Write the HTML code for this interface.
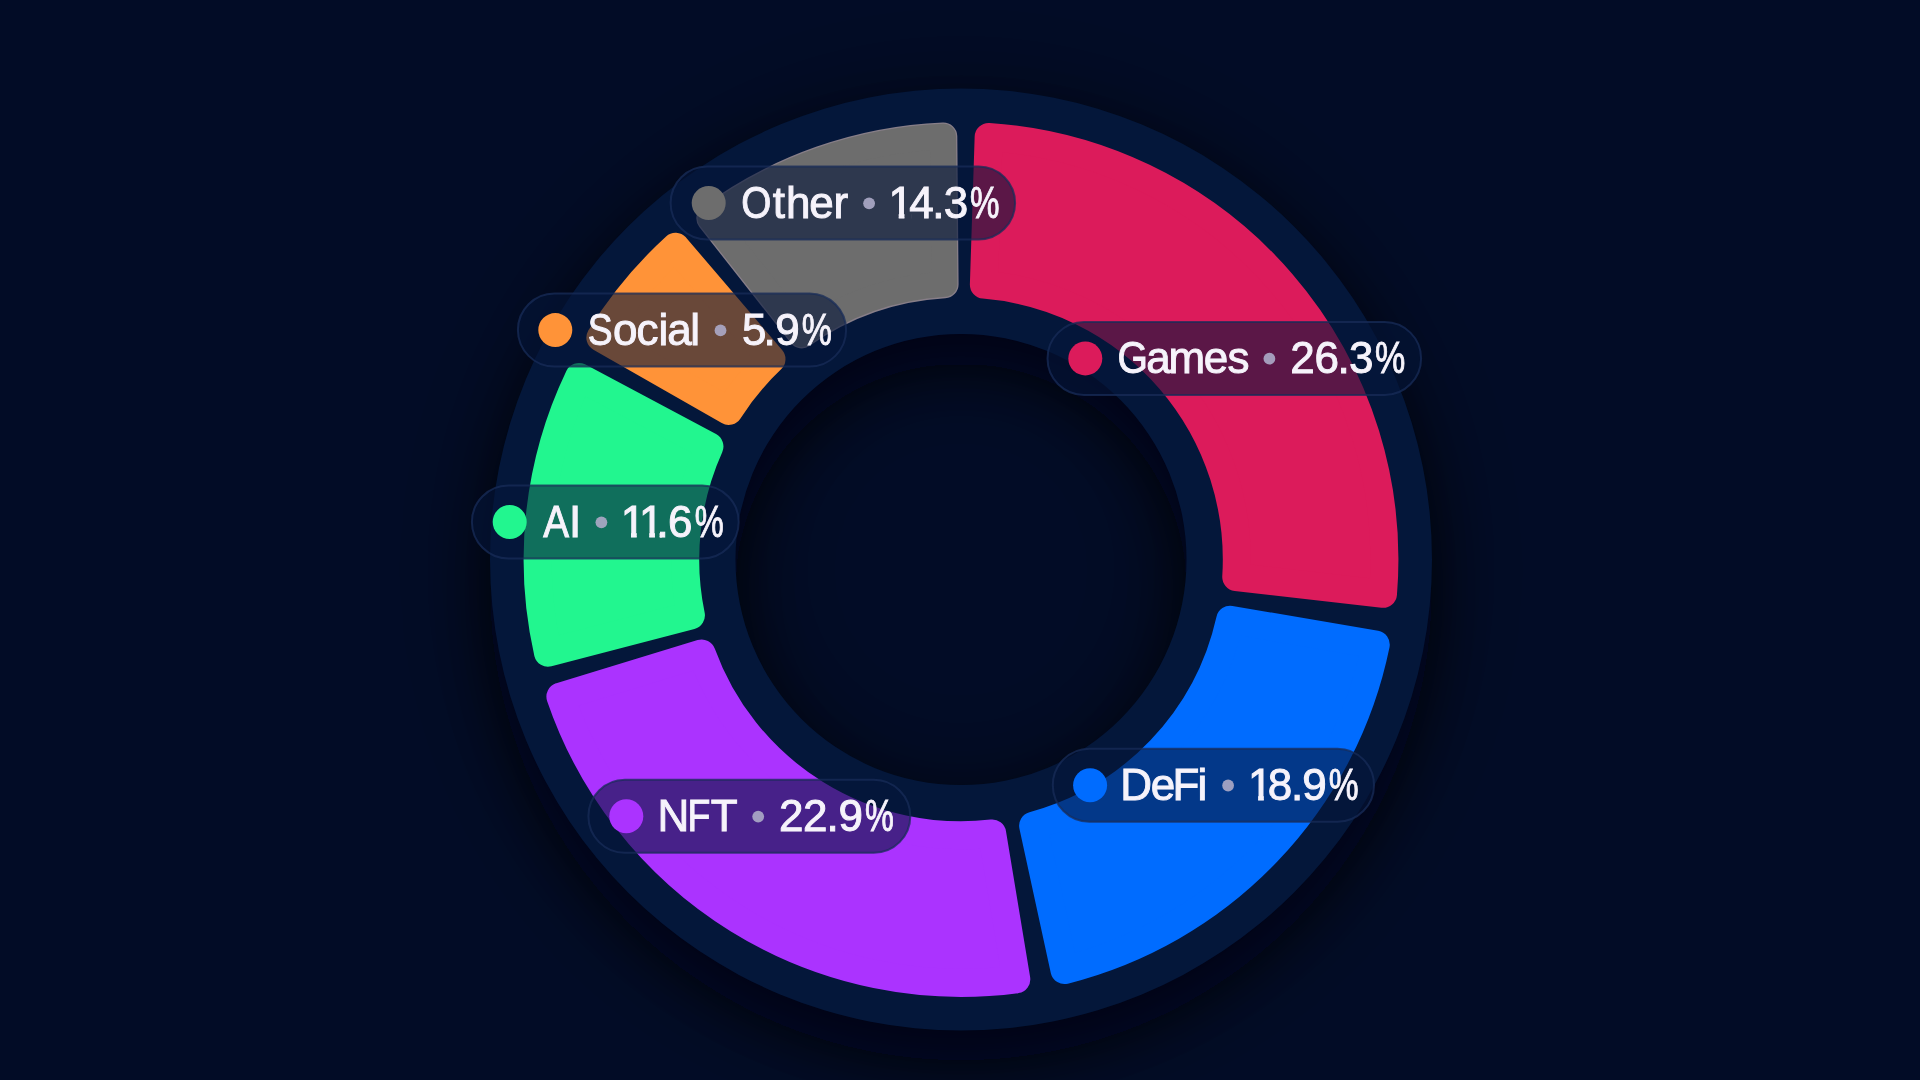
<!DOCTYPE html>
<html lang="en"><head><meta charset="utf-8"><title>Category share</title>
<style>
html,body{margin:0;padding:0;background:#020c26;}
body{width:1920px;height:1080px;overflow:hidden;}
svg{display:block;will-change:transform;}
text{font-family:"Liberation Sans",Arial,sans-serif;font-size:44px;fill:#f6f3fb;stroke:#f6f3fb;stroke-width:0.95px;}
</style></head><body>
<svg width="1920" height="1080" viewBox="0 0 1920 1080">
<defs>
<filter id="shA" filterUnits="userSpaceOnUse" x="0" y="0" width="1920" height="1080"><feGaussianBlur stdDeviation="30"/></filter>
<filter id="shB" filterUnits="userSpaceOnUse" x="0" y="0" width="1920" height="1080"><feGaussianBlur stdDeviation="55"/></filter>
<clipPath id="c0"><rect x="879.1" y="167.9" width="131.6" height="45.70"/><rect x="879.10" y="213.50" width="10.79" height="14"/><rect x="898.71" y="213.50" width="5.72" height="14"/><rect x="911.89" y="213.50" width="98.81" height="14"/></clipPath>
<clipPath id="c1"><rect x="611.5" y="486.9" width="123.5" height="45.70"/><rect x="611.50" y="532.50" width="10.69" height="14"/><rect x="631.01" y="532.50" width="5.72" height="14"/><rect x="649.21" y="532.50" width="5.72" height="14"/><rect x="659.59" y="532.50" width="75.41" height="14"/></clipPath>
<clipPath id="c2"><rect x="1238.5" y="750.1" width="131.3" height="45.70"/><rect x="1238.50" y="795.70" width="10.79" height="14"/><rect x="1258.11" y="795.70" width="5.72" height="14"/><rect x="1271.29" y="795.70" width="98.51" height="14"/></clipPath>
</defs>
<rect width="1920" height="1080" fill="#020c26"/>
<path d="M490.0 559.5a471.0 471.0 0 1 0 942.0 0a471.0 471.0 0 1 0 -942.0 0ZM735.5 559.5a225.5 225.5 0 1 0 451.0 0a225.5 225.5 0 1 0 -451.0 0Z" fill="#00030d" fill-rule="evenodd" fill-opacity="0.38" filter="url(#shB)" transform="translate(0 10)"/>
<path d="M490.0 559.5a471.0 471.0 0 1 0 942.0 0a471.0 471.0 0 1 0 -942.0 0ZM735.5 559.5a225.5 225.5 0 1 0 451.0 0a225.5 225.5 0 1 0 -451.0 0Z" fill="#00030d" fill-rule="evenodd" fill-opacity="0.72" filter="url(#shA)" transform="translate(0 30)"/>
<path fill="#04173a" fill-rule="evenodd" d="M490.0 559.5a471.0 471.0 0 1 0 942.0 0a471.0 471.0 0 1 0 -942.0 0ZM735.5 559.5a225.5 225.5 0 1 0 451.0 0a225.5 225.5 0 1 0 -451.0 0Z"/>
<g stroke-linejoin="round" stroke-width="28">
<path fill="#dc1b5b" stroke="#dc1b5b" d="M988.65 137.00 A423.40 423.40 0 0 1 1383.00 593.86 L1236.24 577.01 A275.80 275.80 0 0 0 983.88 284.65 Z"/>
<path fill="#006cff" stroke="#006cff" d="M1375.76 644.60 A423.40 423.40 0 0 1 1064.47 970.06 L1033.12 825.70 A275.80 275.80 0 0 0 1230.15 619.71 Z"/>
<path fill="#ab33ff" stroke="#ab33ff" d="M1016.30 979.27 A423.40 423.40 0 0 1 560.42 696.61 L701.68 653.42 A275.80 275.80 0 0 0 992.18 833.53 Z"/>
<path fill="#22f68f" stroke="#22f68f" d="M547.97 652.62 A423.40 423.40 0 0 1 578.97 376.96 L709.45 446.42 A275.80 275.80 0 0 0 690.92 615.38 Z"/>
<path fill="#ff9338" stroke="#ff9338" d="M600.36 337.68 A423.40 423.40 0 0 1 675.53 246.81 L771.47 359.14 A275.80 275.80 0 0 0 728.68 410.87 Z"/>
<path fill="#877e88" stroke="#877e88" d="M710.31 218.29 A423.40 423.40 0 0 1 943.31 136.47 L944.60 284.19 A275.80 275.80 0 0 0 801.66 334.38 Z"/>
<path fill="#6d6d6d" stroke="#6d6d6d" stroke-width="25.4" d="M710.31 218.29 A423.40 423.40 0 0 1 943.31 136.47 L944.60 284.19 A275.80 275.80 0 0 0 801.66 334.38 Z"/>
</g>
<g><title>Other • 14.3%</title>
<rect x="670.6" y="166.5" width="344.5" height="73.0" rx="36.5" fill="#05153a" fill-opacity="0.6" stroke="#182c58" stroke-opacity="0.75" stroke-width="2"/>
<circle cx="708.7" cy="203.0" r="17" fill="#6d6d6d"/>
<text y="217.9" x="741.15 772.71 785.93 809.26 833.60"><tspan textLength="30.12" lengthAdjust="spacingAndGlyphs">O</tspan>ther</text>
<circle cx="869.1" cy="203.3" r="5.9" fill="#aaa8c6" fill-opacity="0.92"/>
<text y="217.9" x="888.57 909.30 932.18 943.85 969.88" clip-path="url(#c0)">14.3<tspan textLength="29.51" lengthAdjust="spacingAndGlyphs">%</tspan></text>
</g>
<g><title>Social • 5.9%</title>
<rect x="517.9" y="293.6" width="328.2" height="73.0" rx="36.5" fill="#05153a" fill-opacity="0.6" stroke="#182c58" stroke-opacity="0.75" stroke-width="2"/>
<circle cx="555.3" cy="330.1" r="17" fill="#ff9338"/>
<text y="345.0" x="587.66 613.09 636.60 658.47 667.33 690.22"><tspan textLength="24.82" lengthAdjust="spacingAndGlyphs">S</tspan>ocial</text>
<circle cx="720.5" cy="330.4" r="5.9" fill="#aaa8c6" fill-opacity="0.92"/>
<text y="345.0" x="742.01 763.53 775.22 801.85">5.9<tspan textLength="30.16" lengthAdjust="spacingAndGlyphs">%</tspan></text>
</g>
<g><title>Games • 26.3%</title>
<rect x="1047.5" y="321.9" width="373.6" height="73.0" rx="36.5" fill="#05153a" fill-opacity="0.6" stroke="#182c58" stroke-opacity="0.75" stroke-width="2"/>
<circle cx="1085.3" cy="358.4" r="17" fill="#dc1b5b"/>
<text y="373.3" x="1117.42 1146.23 1168.52 1203.81 1227.58"><tspan textLength="30.43" lengthAdjust="spacingAndGlyphs">G</tspan>ames</text>
<circle cx="1269.4" cy="358.7" r="5.9" fill="#aaa8c6" fill-opacity="0.92"/>
<text y="373.3" x="1290.37 1314.56 1337.46 1348.90 1374.95">26.3<tspan textLength="30.27" lengthAdjust="spacingAndGlyphs">%</tspan></text>
</g>
<g><title>AI • 11.6%</title>
<rect x="471.9" y="485.5" width="266.8" height="73.0" rx="36.5" fill="#05153a" fill-opacity="0.6" stroke="#182c58" stroke-opacity="0.75" stroke-width="2"/>
<circle cx="509.7" cy="522.0" r="17" fill="#22f68f"/>
<text y="536.9" x="543.20 569.08"><tspan textLength="25.80" lengthAdjust="spacingAndGlyphs">A</tspan>I</text>
<circle cx="601.4" cy="522.3" r="5.9" fill="#aaa8c6" fill-opacity="0.92"/>
<text y="536.9" x="620.87 639.07 656.48 667.94 694.70" clip-path="url(#c1)">11.6<tspan textLength="28.97" lengthAdjust="spacingAndGlyphs">%</tspan></text>
</g>
<g><title>NFT • 22.9%</title>
<rect x="588.4" y="779.8" width="321.9" height="73.0" rx="36.5" fill="#05153a" fill-opacity="0.6" stroke="#182c58" stroke-opacity="0.75" stroke-width="2"/>
<circle cx="626.3" cy="816.3" r="17" fill="#ab33ff"/>
<text y="831.2" x="657.39 687.50 710.63">N<tspan textLength="22.92" lengthAdjust="spacingAndGlyphs">F</tspan>T</text>
<circle cx="758.2" cy="816.6" r="5.9" fill="#aaa8c6" fill-opacity="0.92"/>
<text y="831.2" x="779.02 802.97 826.61 838.39 865.11">22.9<tspan textLength="28.86" lengthAdjust="spacingAndGlyphs">%</tspan></text>
</g>
<g><title>DeFi • 18.9%</title>
<rect x="1052.8" y="748.7" width="321.2" height="73.0" rx="36.5" fill="#05153a" fill-opacity="0.6" stroke="#182c58" stroke-opacity="0.75" stroke-width="2"/>
<circle cx="1090.1" cy="785.2" r="17" fill="#006cff"/>
<text y="800.1" x="1120.27 1150.71 1172.53 1197.42">DeFi</text>
<circle cx="1228.1" cy="785.5" r="5.9" fill="#aaa8c6" fill-opacity="0.92"/>
<text y="800.1" x="1247.97 1267.87 1290.93 1302.22 1328.67" clip-path="url(#c2)">18.9<tspan textLength="29.84" lengthAdjust="spacingAndGlyphs">%</tspan></text>
</g>
</svg>
</body></html>
